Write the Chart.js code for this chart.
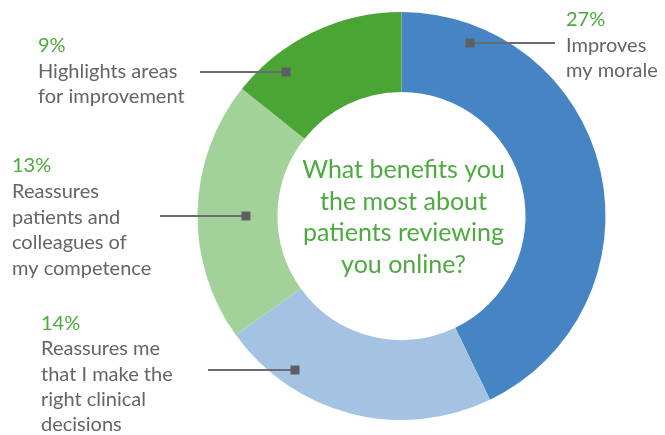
<!DOCTYPE html>
<html>
<head>
<meta charset="utf-8">
<script src="https://cdn.jsdelivr.net/npm/chart.js@4"></script>
<style>
  html, body { margin: 0; padding: 0; background: #fff; }
  #wrap { width: 665px; height: 435px; position: relative; }
</style>
</head>
<body>
<div id="wrap"><canvas id="chart1"></canvas></div>
<script>
// data
const categories = ['Improves my morale', 'Reassures me that I make the right clinical decisions',
    'Reassures patients and colleagues of my competence', 'Highlights areas for improvement'];
const percentages = [27, 14, 13, 9];
const labelLines = [
    ['Improves', 'my morale'],
    ['Reassures me', 'that I make the', 'right clinical', 'decisions'],
    ['Reassures', 'patients and', 'colleagues of', 'my competence'],
    ['Highlights areas', 'for improvement']
];
const question = ['What benefits you', 'the most about', 'patients reviewing', 'you online?'];

const colors = ['#4684c4', '#a4c2e2', '#a2d19a', '#4aa535'];
const green = '#4caa3e';
const grey = '#646469';

// where each callout sits: marker inside the slice (angle / radius fraction), line end, text block
const callouts = [
    { af: 0.14, rf: 0.77, lineX: 555, textX: 566, baseY: 26, step: 25.5 },
    { af: 0.755, rf: 0.79, lineX: 208, textX: 41, baseY: 330, step: 25.3 },
    { af: 0.48, rf: 0.39, lineX: 160, textX: 12, baseY: 172, step: 25.8 },
    { af: 0.25, rf: 0.76, lineX: 200, textX: 38, baseY: 52, step: 25.5 }
];

const calloutPlugin = {
    id: 'callouts',
    afterDraw(chart) {
        const ctx = chart.ctx;
        const arcs = chart.getDatasetMeta(0).data;
        ctx.save();
        // center question
        ctx.fillStyle = green;
        ctx.font = '25px Lato';
        ctx.textAlign = 'center';
        ctx.textBaseline = 'alphabetic';
        const cx = arcs[0].x, cy = arcs[0].y;
        question.forEach((q, i) => ctx.fillText(q, cx + 2, cy - 38 + i * 31.7));

        arcs.forEach((arc, i) => {
            const c = callouts[i];
            const a = arc.startAngle + (arc.endAngle - arc.startAngle) * c.af;
            const r = arc.innerRadius + (arc.outerRadius - arc.innerRadius) * c.rf;
            const mx = Math.round(arc.x + r * Math.cos(a));
            const my = Math.round(arc.y + r * Math.sin(a));
            ctx.strokeStyle = '#6b6b71';
            ctx.lineWidth = 2;
            ctx.beginPath();
            ctx.moveTo(c.lineX, my);
            ctx.lineTo(mx, my);
            ctx.stroke();
            ctx.fillStyle = '#5e5e66';
            ctx.fillRect(mx - 4.5, my - 4.5, 9, 9);

            ctx.textAlign = 'left';
            ctx.font = '20px Lato';
            ctx.fillStyle = green;
            ctx.fillText(percentages[i] + '%', c.textX, c.baseY);
            ctx.fillStyle = grey;
            labelLines[i].forEach((t, j) => ctx.fillText(t, c.textX, c.baseY + (j + 1) * c.step));
        });
        ctx.restore();
    }
};

new Chart(document.getElementById('chart1'), {
    type: 'doughnut',
    data: {
        labels: categories,
        datasets: [{
            data: percentages,
            backgroundColor: colors,
            borderWidth: 0
        }]
    },
    options: {
        responsive: true,
        maintainAspectRatio: false,
        animation: false,
        cutout: '60.8%',
        layout: { padding: { left: 197.5, right: 59.5, top: 12, bottom: 15 } },
        plugins: {
            legend: { display: false },
            tooltip: { enabled: false }
        }
    },
    plugins: [calloutPlugin]
});
</script>
</body>
</html>
